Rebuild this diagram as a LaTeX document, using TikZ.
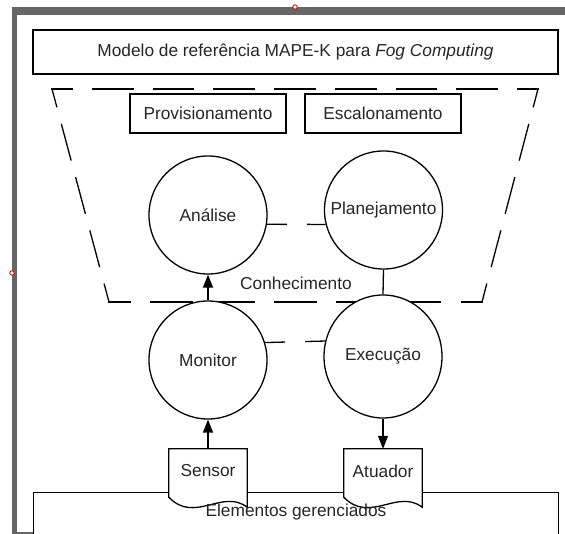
\documentclass[tikz,border=0pt]{standalone}
\usepackage{fontspec}
\setmainfont{Liberation Sans}
\usetikzlibrary{arrows.meta,shapes.geometric,calc}
\pgfdeclarelayer{back}
\pgfdeclarelayer{mid}
\pgfsetlayers{back,mid,main}
\definecolor{txt}{HTML}{262626}
\definecolor{frame}{HTML}{666666}
\begin{document}
\begin{tikzpicture}[x=1pt,y=-1pt,
  every node/.style={font=\fontsize{17.3}{20}\selectfont, text=txt},
  ln/.style={line width=1.3pt, draw=black},
  labelbox/.style={ln, fill=white, minimum width=156pt, minimum height=39pt, inner sep=0pt},
  proc/.style={ln, circle, fill=white, minimum size=118pt, inner sep=0pt},
  procell/.style={ln, ellipse, fill=white, minimum width=118pt, minimum height=123pt, inner sep=0pt},
  docbox/.style={minimum width=78pt, minimum height=44pt, inner sep=0pt},
  docshape/.style={ln, fill=white, line join=miter},
  trap/.style={ln, line cap=rect},
  conn/.style={ln, dash pattern=on 20pt off 20pt},
  arr/.style={ln, -{Triangle[length=13pt,width=10pt]}}
]
\useasboundingbox (0,0) rectangle (565,534);
\clip (0,0) rectangle (565,534);

% grey frame and managed elements (back layer)
\begin{pgfonlayer}{back}
  \fill[frame] (12,7) rectangle (565,15);
  \fill[frame] (12,7) rectangle (16.5,534);
  \fill[frame] (12,531.5) rectangle (40,534);
  \node[ln, fill=white, minimum width=525pt, minimum height=80pt, anchor=north west, inner sep=0pt] (el) at (33,492) {};
\end{pgfonlayer}
\draw[red!85!black, line width=0.8pt, fill=white] (295,7) circle (2.2);
\draw[red!85!black, line width=0.8pt, fill=white] (12,273) circle (2.2);

% title
\node[ln, minimum width=525pt, minimum height=44pt, inner sep=0pt] (ti) at (295.5,52)
  {Modelo de referência MAPE-K para \textit{Fog Computing}};

% dashed knowledge region
\coordinate (t1) at (52,89);
\coordinate (t2) at (538,89);
\coordinate (t3) at (482,302);
\coordinate (t4) at (109,302);
\draw[trap, dash pattern=on 40.5pt off 20.25pt, dash phase=20.25pt] (t1) -- (t2);
\draw[trap, dash pattern=on 36.7pt off 18.35pt, dash phase=18.35pt] (t2) -- (t3);
\draw[trap, dash pattern=on 41.4pt off 20.7pt, dash phase=20.7pt] (t3) -- (t4);
\draw[trap, dash pattern=on 36.75pt off 18.4pt, dash phase=18.4pt] (t4) -- (t1);

\node[labelbox] (pv) at (208,113.5) {Provisionamento};
\node[labelbox] (es) at (383,113.5) {Escalonamento};

\node (kn) at (296,283) {Conhecimento};

% MAPE circles
\node[proc] (an) at (208,215) {Análise};
\node[proc] (pl) at (383.5,210) {Planejamento};
\node[proc] (mo) at (208,360) {Monitor};
\node[procell] (ex) at (383,356.5) {Execução};

\draw[conn] (an.-9.8) -- (pl.194.9);
\draw[conn] (mo.17.8) -- (ex.165.8);
\draw[ln] (pl.south) -- (ex.north);
\draw[arr] (mo.north) -- (an.south);

% sensor and actuator
\node[docbox] (se) at (208,471) {Sensor};
\node[docbox] (at) at (383,471) {Atuador};
\begin{pgfonlayer}{mid}
  \foreach \d in {se,at}{
    \draw[docshape] (\d.north west) -- (\d.north east) -- ($(\d.south east)+(0,14)$)
      .. controls ($(\d.south east)+(-25,-5)$) and ($(\d.south west)+(26,31)$) ..
      ($(\d.south west)+(0,4)$) -- cycle;
  }
\end{pgfonlayer}
\draw[arr] (se.north) -- (mo.south);
\draw[arr] (ex.south) -- (at.north);

\node (elt) at (296,512) {Elementos gerenciados};
\end{tikzpicture}
\end{document}
